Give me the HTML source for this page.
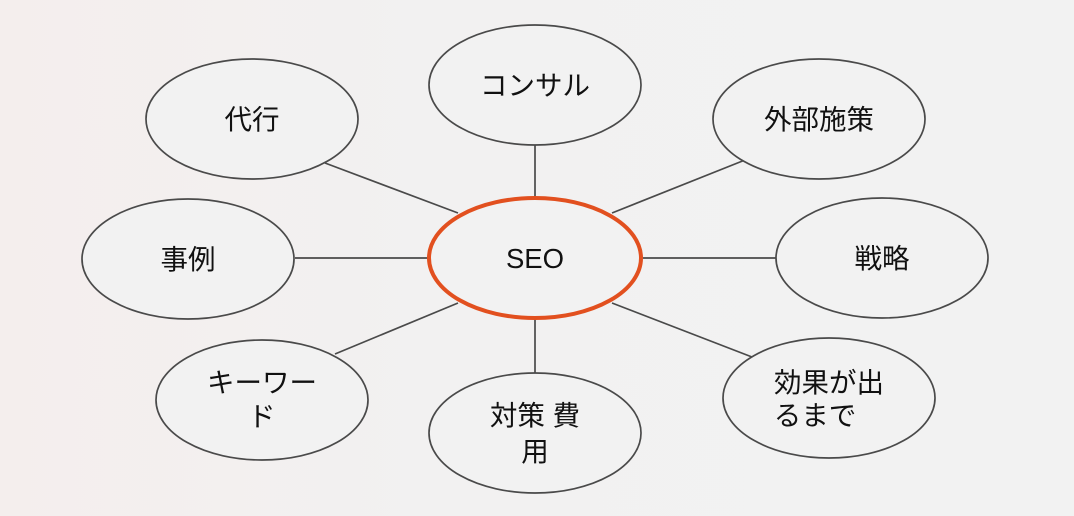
<!DOCTYPE html>
<html><head><meta charset="utf-8"><style>
html,body{margin:0;padding:0;width:1074px;height:516px;overflow:hidden;background:linear-gradient(90deg,#f4eeed 0%,#f2f1f1 40%,#f2f2f2 100%);}
svg{display:block}
text{font-family:"Liberation Sans","Noto Sans CJK JP",sans-serif;font-size:27.5px;fill:#111;text-anchor:middle;}
</style></head><body>
<svg width="1074" height="516" viewBox="0 0 1074 516">
<g stroke="#4a4a4a" stroke-width="1.7">
<line x1="325" y1="163" x2="458" y2="213"/>
<line x1="745" y1="160" x2="612" y2="213"/>
<line x1="295" y1="258" x2="428" y2="258"/>
<line x1="643" y1="258" x2="776" y2="258"/>
<line x1="335" y1="354" x2="458" y2="303"/>
<line x1="752" y1="357" x2="612" y2="303"/>
<line x1="535" y1="145" x2="535" y2="198"/>
<line x1="535" y1="318" x2="535" y2="373"/>
</g>
<g fill="#f2f2f2" stroke="#4a4a4a" stroke-width="1.7">
<ellipse cx="535" cy="85" rx="106" ry="60"/>
<ellipse cx="252" cy="119" rx="106" ry="60"/>
<ellipse cx="819" cy="119" rx="106" ry="60"/>
<ellipse cx="188" cy="259" rx="106" ry="60"/>
<ellipse cx="882" cy="258" rx="106" ry="60"/>
<ellipse cx="262" cy="400" rx="106" ry="60"/>
<ellipse cx="535" cy="433" rx="106" ry="60"/>
<ellipse cx="829" cy="398" rx="106" ry="60"/>
</g>
<ellipse cx="535" cy="258" rx="106" ry="60" fill="#f2f2f2" stroke="#e2501f" stroke-width="4"/>
<text x="535" y="95">コンサル</text>
<text x="252" y="129">代行</text>
<text x="819" y="129">外部施策</text>
<text x="188" y="269">事例</text>
<text x="882" y="268">戦略</text>
<text x="535" y="268">SEO</text>
<text x="262" y="392">キーワー</text>
<text x="262" y="426" style="text-anchor:start" dx="-14">ド</text>
<text x="535" y="425">対策 費</text>
<text x="535" y="461">用</text>
<text x="829" y="392">効果が出</text>
<text x="815" y="425">るまで</text>
</svg>
</body></html>
